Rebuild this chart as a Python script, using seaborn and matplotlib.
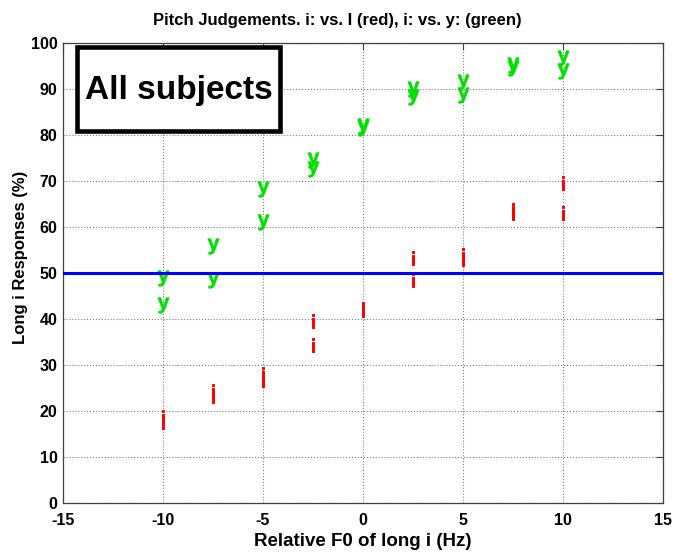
import pandas as pd
import seaborn as sns
import matplotlib.pyplot as plt
from matplotlib.patches import Rectangle

# Relative F0 of long i (Hz), two judgements per step
f0 = [-10, -10, -7.5, -7.5, -5, -5, -2.5, -2.5, 0, 0, 2.5, 2.5, 5, 5, 7.5, 7.5, 10, 10]

# % long-i responses, i: vs. I (red)
resp_I = [18.6, 17.7, 24.3, 23.3, 28.0, 26.7, 39.6, 34.3, 42.2, 42.0,
          53.2, 48.5, 53.9, 53.0, 63.7, 63.0, 69.6, 63.0]

# % long-i responses, i: vs. y (green)
resp_y = [49.0, 43.0, 55.9, 48.5, 68.3, 61.0, 74.5, 72.5, 81.9, 81.6,
          90.1, 88.2, 91.6, 88.8, 95.2, 94.6, 96.8, 94.0]

xticks = [-15, -10, -5, 0, 5, 10, 15]
yticks = list(range(0, 101, 10))

df_I = pd.DataFrame({'f0': f0, 'resp': resp_I})
df_y = pd.DataFrame({'f0': f0, 'resp': resp_y})

sns.set_theme(style='white')
plt.rcParams['font.family'] = ['Liberation Sans Narrow', 'Liberation Sans', 'DejaVu Sans']
plt.rcParams['axes.unicode_minus'] = False
plt.rcParams['mathtext.fontset'] = 'custom'
plt.rcParams['mathtext.bf'] = 'Liberation Sans:bold'
plt.rcParams['mathtext.rm'] = 'Liberation Sans'
plt.rcParams['text.color'] = 'black'
plt.rcParams['axes.labelcolor'] = 'black'
plt.rcParams['xtick.labelcolor'] = 'black'
plt.rcParams['ytick.labelcolor'] = 'black'

fig = plt.figure(figsize=(6.73, 5.53), dpi=100)
ax = fig.add_axes([63 / 673, 50 / 553, 600 / 673, 460 / 553])

# letters used as markers, like the original text plot
sns.scatterplot(data=df_I, x='f0', y='resp', marker='$\\mathbf{i}$', s=105,
                color='#ff0000', edgecolor='#ff0000', linewidth=0.7, ax=ax, zorder=1)
sns.scatterplot(data=df_y, x='f0', y='resp', marker='$\\mathbf{y}$', s=125,
                color='#00e000', edgecolor='#00e000', linewidth=0.4, ax=ax, zorder=1)

ax.axhline(50, color='#0000ff', lw=2.2, zorder=3)

ax.add_patch(Rectangle((-14.3, 80.9), 10.15, 18.2, fill=True, fc='white',
                       ec='black', lw=3.3, zorder=4))
ax.text(-9.2, 89.6, 'All subjects', fontsize=24, fontweight='bold',
        family=['Liberation Sans', 'DejaVu Sans'],
        ha='center', va='center', zorder=5)

ax.set_xlim(-15, 15)
ax.set_ylim(0, 100)
ax.set_xticks(xticks)
ax.set_yticks(yticks)
ax.grid(True, ls=':', color='0.5', lw=0.8)
ax.tick_params(direction='in', length=5, width=0.8, top=True, right=True,
               labelsize=11.5, pad=4, color='0.25')
ax.tick_params(axis='x', pad=7.5)
for lab in ax.get_xticklabels() + ax.get_yticklabels():
    lab.set_fontweight('bold')
for sp in ax.spines.values():
    sp.set_color('0.25')
    sp.set_linewidth(0.9)

ax.set_title('Pitch Judgements. i: vs. I (red), i: vs. y: (green)',
             fontsize=12, fontweight='bold', pad=13, x=0.458)
ax.set_xlabel('Relative F0 of long i (Hz)', fontsize=13.5, fontweight='bold', labelpad=3)
ax.set_ylabel('Long i Responses (%)', fontsize=12, fontweight='bold', labelpad=0)
ax.yaxis.set_label_coords(-0.058, 0.533)

fig.savefig('out.png', dpi=100)
